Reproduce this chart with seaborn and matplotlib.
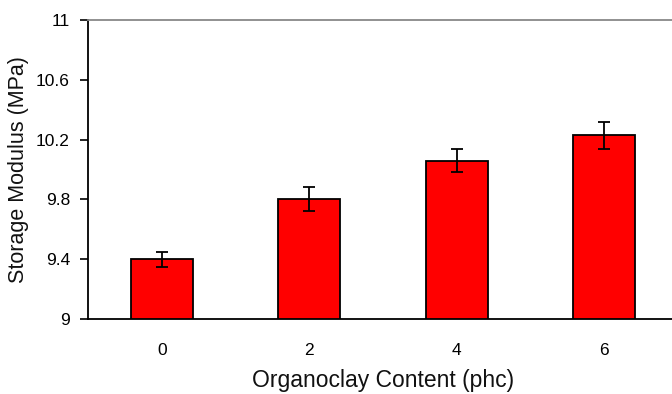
import matplotlib
matplotlib.use("Agg")
import matplotlib.pyplot as plt
import seaborn as sns
import pandas as pd

# organoclay content (phc) and measured storage modulus (MPa)
content = ["0", "2", "4", "6"]
modulus = [9.40, 9.80, 10.06, 10.23]
modulus_err = [0.05, 0.08, 0.075, 0.09]
y_ticks = [9, 9.4, 9.8, 10.2, 10.6, 11]
y_tick_labels = ["9", "9.4", "9.8", "10.2", "10.6", "11"]

df = pd.DataFrame({"content": content, "modulus": modulus})

sns.set_theme(style="white")
plt.rcParams["font.family"] = ["Liberation Sans", "DejaVu Sans"]

fig = plt.figure(figsize=(6.72, 3.94), dpi=100)
# axes run slightly past the right edge, as in the original crop
ax = fig.add_axes([88 / 672, 75 / 394, (678 - 88) / 672, 299 / 394])

sns.barplot(data=df, x="content", y="modulus", order=content, color="#ff0000",
            saturation=1, width=0.42, edgecolor="black", linewidth=1.3,
            errorbar=None, ax=ax)
ax.errorbar(range(len(content)), modulus, yerr=modulus_err, fmt="none",
            ecolor="black", elinewidth=1.3, capsize=4.5, capthick=1.3)

ax.set_xlim(-0.5, 3.5)
ax.set_ylim(9, 11)
ax.set_yticks(y_ticks)
ax.set_yticklabels(y_tick_labels)

ax.set_xlabel("Organoclay Content (phc)", fontsize=16.5, labelpad=8.5, color="#111111")
ax.set_ylabel("Storage Modulus (MPa)", fontsize=15.5, labelpad=5, color="#111111")
ax.tick_params(axis="x", length=0, pad=17, labelsize=12.5, colors="black")
ax.tick_params(axis="y", left=True, direction="out", length=6, width=1.2,
               pad=7, labelsize=12.5, colors="black")

for side in ["left", "bottom"]:
    ax.spines[side].set_color("black")
    ax.spines[side].set_linewidth(1.3)
ax.spines["top"].set_color("#888888")
ax.spines["top"].set_linewidth(1.3)
ax.spines["right"].set_visible(False)

fig.savefig("out.png", dpi=100)
